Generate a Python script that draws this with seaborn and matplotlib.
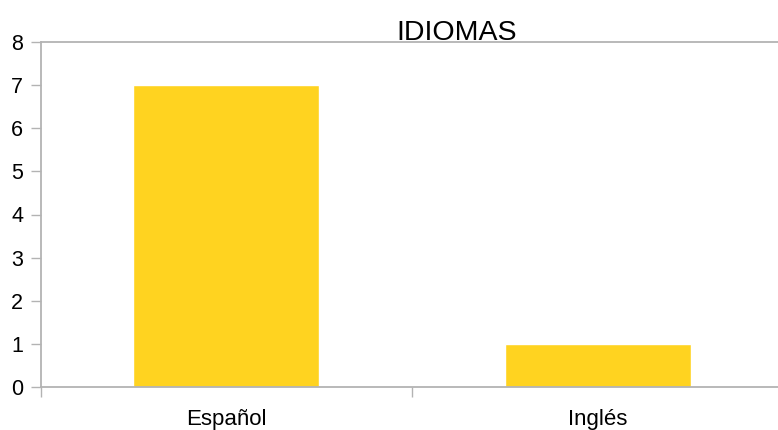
import pandas as pd
import numpy as np
import seaborn as sns
import matplotlib.pyplot as plt

# datos del grafico
idiomas = ["Español", "Inglés"]
cantidad = [7, 1]
y_ticks = [0, 1, 2, 3, 4, 5, 6, 7, 8]

sns.set_style("white")
plt.rcParams["font.family"] = ["Liberation Sans", "DejaVu Sans"]

df = pd.DataFrame({"IDIOMA": idiomas, "CANTIDAD": cantidad})

fig = plt.figure(figsize=(7.78, 4.30), dpi=100)
# el area de ejes pasa un poco del borde derecho
ax = fig.add_axes([40.5 / 778, 1 - 387 / 430, 743 / 778, 345 / 430])

sns.barplot(data=df, x="IDIOMA", y="CANTIDAD", color="#ffd320",
            saturation=1, width=0.5, ax=ax)

grey = "#b3b3b3"
ax.set_xlim(-0.5, len(idiomas) - 0.5)
ax.set_ylim(0, 8)
ax.set_yticks(y_ticks)
ax.set_xlabel("")
ax.set_ylabel("")

# linea superior en 8
ax.axhline(8, color=grey, lw=1.3, clip_on=False)

for side in ["top", "right"]:
    ax.spines[side].set_visible(False)
for side in ["left", "bottom"]:
    ax.spines[side].set_color(grey)
    ax.spines[side].set_linewidth(1.3)

ax.tick_params(axis="y", length=7.5, width=1.0, color=grey, pad=5,
               labelsize=15.5, labelcolor="black", left=True)
# marcas de categoria entre barras, etiquetas al centro
ax.set_xticks(np.arange(len(idiomas)))
ax.set_xticklabels(idiomas)
ax.tick_params(axis="x", length=0, pad=16, labelsize=16, labelcolor="black")
ax.set_xticks(np.arange(len(idiomas) + 1) - 0.5, minor=True)
ax.tick_params(axis="x", which="minor", length=7.5, width=1.0, color=grey,
               bottom=True)

fig.text(457 / 778, 1 - 40 / 430, "IDIOMAS", ha="center", va="baseline",
         fontsize=20.5, color="black")

plt.savefig("out.png", dpi=100)
